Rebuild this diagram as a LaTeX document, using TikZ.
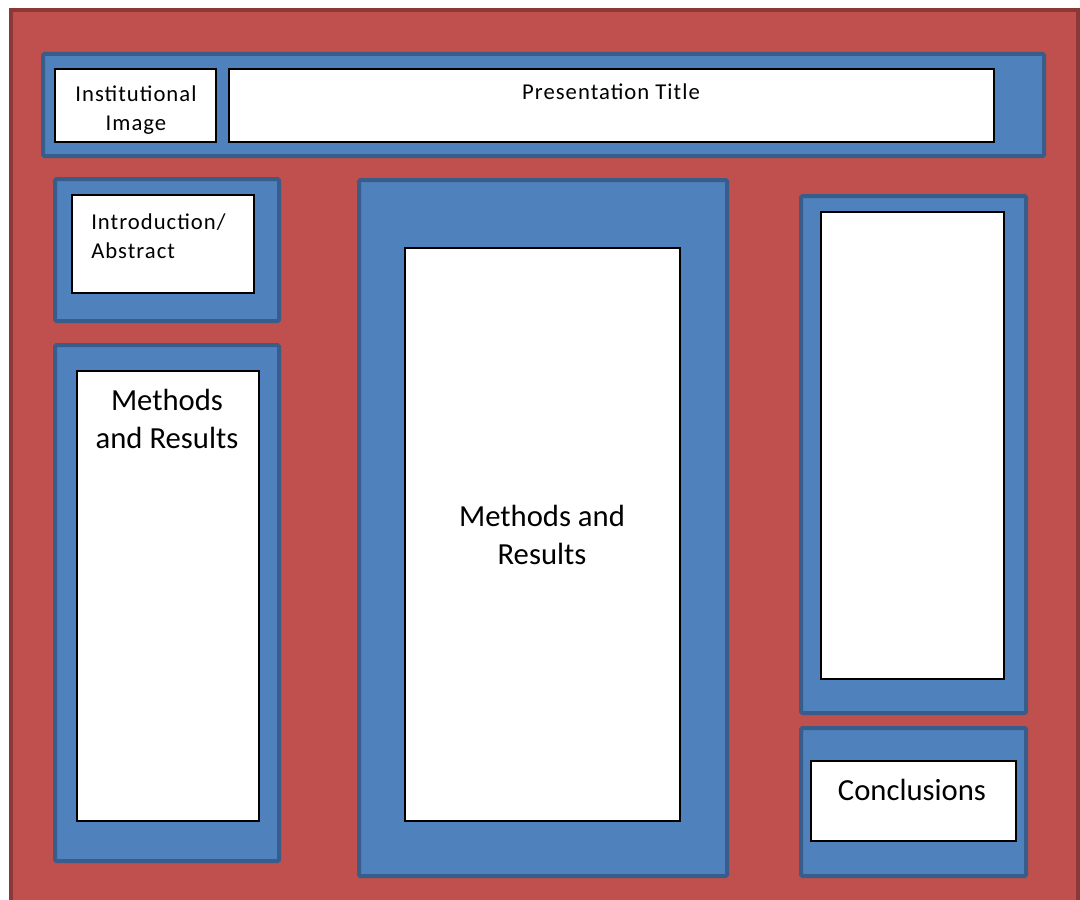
\documentclass[tikz,border=0pt]{standalone}
\usepackage{fontspec}
\setmainfont{Carlito}
\newfontfamily\spacedfont[LetterSpace=4.5]{Carlito}
\definecolor{posterred}{HTML}{C0504D}
\definecolor{posterredline}{HTML}{8C3836}
\definecolor{posterblue}{HTML}{4F81BD}
\definecolor{posterblueline}{HTML}{385D8A}
\tikzset{
  redpanel/.style={fill=posterred, draw=posterredline, line width=3pt},
  bluepanel/.style={fill=posterblue, draw=posterblueline, line width=3pt, rounded corners=1pt},
  whitepanel/.style={fill=white, draw=black, line width=1.4pt},
  smalltext/.style={inner sep=0pt, font=\spacedfont\fontsize{17}{21.5}\selectfont, align=center},
  bigtext/.style={inner sep=0pt, font=\fontsize{23}{28.5}\selectfont, align=center},
}
\begin{document}
\begin{tikzpicture}[x=0.75pt, y=-0.75pt]
\useasboundingbox (0,0) rectangle (1080,899);
\clip (0,0) rectangle (1080,899);
\fill[white] (0,0) rectangle (1080,899);
% outer poster
\path[redpanel] (11,10) rectangle (1078,930);
% header
\path[bluepanel] (43,54) rectangle (1044,156);
\path[whitepanel] (55,69) rectangle (216,142);
\path[whitepanel] (229,69) rectangle (994,142);
\node[smalltext] (inst) at (136,110) {Institutional\\Image};
\node[smalltext] (title) at (611,92) {Presentation Title};
% left column
\path[bluepanel] (55,179) rectangle (279,321);
\path[whitepanel] (72,195) rectangle (254,293);
\node[smalltext, align=left, anchor=west] (intro) at (91,236) {Introduction/\\Abstract};
\path[bluepanel] (55,345) rectangle (279,861);
\path[whitepanel] (77,371) rectangle (259,821);
\node[bigtext] (mr1) at (167,419) {Methods\\and Results};
% middle column
\path[bluepanel] (359,180) rectangle (727,876);
\path[whitepanel] (405,248) rectangle (680,821);
\node[bigtext] (mr2) at (542,535) {Methods and\\Results};
% right column
\path[bluepanel] (801,196) rectangle (1026,713);
\path[whitepanel] (821,212) rectangle (1004,679);
\path[bluepanel] (801,728) rectangle (1026,876);
\path[whitepanel] (811,761) rectangle (1016,841);
\node[bigtext] (concl) at (912,790) {Conclusions};
\end{tikzpicture}
\end{document}
